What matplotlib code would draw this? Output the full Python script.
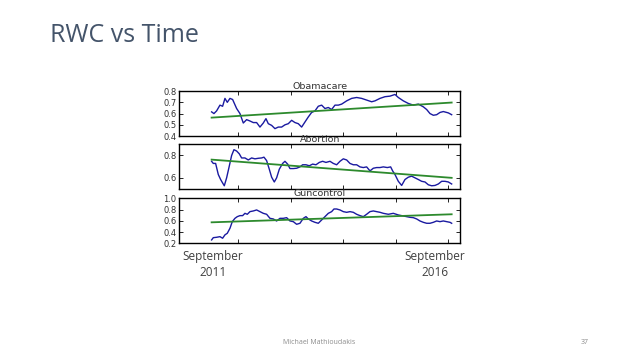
import matplotlib
matplotlib.use("Agg")
import matplotlib.pyplot as plt
import numpy as np

# time axis: 0 = September 2011, 720 = September 2016 (arbitrary units)
obama_t = [0, 7, 15, 25, 33, 40, 47, 55, 63, 75, 85, 95, 105, 115, 125, 135, 145, 155, 163, 170, 180, 190, 200,
           210, 220, 230, 240, 250, 260, 270, 280, 290, 300, 310, 320, 330, 340, 350, 360, 370, 380, 390, 405, 420,
           435, 450, 465, 480, 490, 505, 520, 535, 550, 560, 575, 590, 605, 620, 635, 645, 655, 665, 675, 685, 695,
           710, 720]
obama_v = [0.615, 0.60, 0.624, 0.675, 0.665, 0.735, 0.70, 0.735, 0.725, 0.645, 0.60, 0.516, 0.546, 0.534, 0.52,
           0.52, 0.48, 0.516, 0.555, 0.51, 0.495, 0.466, 0.48, 0.48, 0.50, 0.51, 0.54, 0.52, 0.51, 0.48, 0.525,
           0.57, 0.61, 0.624, 0.665, 0.675, 0.645, 0.654, 0.636, 0.675, 0.675, 0.684, 0.713, 0.735, 0.743, 0.735,
           0.72, 0.705, 0.713, 0.735, 0.75, 0.755, 0.77, 0.743, 0.713, 0.69, 0.675, 0.684, 0.66, 0.636, 0.60,
           0.585, 0.59, 0.61, 0.618, 0.606, 0.59]
obama_trend = [0.564, 0.698]

abort_t = [0, 5, 12, 20, 27, 33, 38, 45, 52, 60, 67, 75, 83, 90, 100, 110, 120, 130, 140, 150, 157, 165, 173, 180,
           188, 195, 203, 213, 220, 228, 235, 245, 255, 265, 273, 283, 293, 303, 313, 323, 333, 343, 355, 365, 375,
           385, 395, 405, 415, 425, 435, 445, 455, 465, 475, 485, 495, 505, 515, 527, 537, 543, 550, 560, 570,
           580, 590, 600, 610, 620, 630, 640, 650, 660, 670, 680, 690, 700, 710, 720]
abort_v = [0.748, 0.729, 0.729, 0.63, 0.585, 0.554, 0.529, 0.60, 0.692, 0.80, 0.852, 0.84, 0.815, 0.778, 0.778,
           0.76, 0.778, 0.77, 0.775, 0.778, 0.785, 0.754, 0.677, 0.606, 0.563, 0.60, 0.677, 0.729, 0.748, 0.723,
           0.683, 0.683, 0.686, 0.698, 0.717, 0.717, 0.708, 0.723, 0.717, 0.738, 0.748, 0.738, 0.748, 0.729,
           0.717, 0.748, 0.77, 0.76, 0.729, 0.717, 0.717, 0.698, 0.692, 0.698, 0.662, 0.686, 0.692, 0.692,
           0.698, 0.692, 0.698, 0.662, 0.63, 0.569, 0.532, 0.585, 0.606, 0.615, 0.60, 0.585, 0.569, 0.563,
           0.538, 0.529, 0.532, 0.545, 0.569, 0.569, 0.563, 0.545]
abort_trend = [0.763, 0.60]

gun_t = [0, 5, 15, 25, 33, 40, 47, 55, 62, 70, 77, 85, 93, 100, 107, 115, 125, 135, 145, 155, 165, 175, 185, 195,
         205, 215, 225, 235, 245, 255, 265, 275, 283, 290, 300, 310, 320, 330, 340, 350, 360, 367, 375, 385,
         395, 405, 415, 425, 435, 445, 455, 465, 475, 485, 495, 505, 515, 530, 545, 560, 570, 585, 595, 605,
         615, 625, 635, 645, 655, 665, 675, 685, 695, 705, 715, 720]
gun_v = [0.26, 0.30, 0.307, 0.318, 0.29, 0.35, 0.378, 0.467, 0.585, 0.644, 0.674, 0.692, 0.692, 0.733, 0.716,
         0.763, 0.775, 0.793, 0.763, 0.733, 0.716, 0.644, 0.633, 0.597, 0.644, 0.644, 0.656, 0.597, 0.585,
         0.538, 0.556, 0.644, 0.674, 0.633, 0.597, 0.573, 0.556, 0.615, 0.674, 0.733, 0.763, 0.81, 0.81,
         0.793, 0.763, 0.751, 0.763, 0.751, 0.716, 0.692, 0.674, 0.716, 0.763, 0.775, 0.763, 0.751, 0.733,
         0.716, 0.733, 0.704, 0.692, 0.674, 0.662, 0.656, 0.633, 0.597, 0.573, 0.556, 0.556, 0.573, 0.597,
         0.585, 0.597, 0.585, 0.573, 0.556]
gun_trend = [0.573, 0.716]

titles = ["Obamacare", "Abortion", "Guncontrol"]
ylims = [(0.4, 0.8), (0.5, 0.9), (0.2, 1.0)]
yticks = [[0.4, 0.5, 0.6, 0.7, 0.8], [0.6, 0.8], [0.2, 0.4, 0.6, 0.8, 1.0]]
xticks = [80, 237.5, 395, 552.5, 710]

fig = plt.figure(figsize=(6.38, 3.59), dpi=100)
fig.patch.set_facecolor("white")

boxes = [(0.281, 0.621, 0.44, 0.1253), (0.281, 0.4735, 0.44, 0.1245), (0.281, 0.3223, 0.44, 0.1253)]
series = [(obama_t, obama_v, obama_trend), (abort_t, abort_v, abort_trend), (gun_t, gun_v, gun_trend)]

for box, (t, v, tr), title, yl, yt in zip(boxes, series, titles, ylims, yticks):
    ax = fig.add_axes(box)
    ax.plot(t, v, color="#1a1aa0", lw=1.0)
    ax.plot([t[0], t[-1]], tr, color="#2d8a2d", lw=1.3)
    ax.set_xlim(-97, 745)
    ax.set_ylim(*yl)
    ax.set_yticks(yt)
    ax.set_yticklabels([f"{y:.1f}" for y in yt])
    ax.set_xticks(xticks)
    ax.set_xticklabels([])
    ax.tick_params(direction="in", top=True, right=True, length=3, width=0.6,
                   labelsize=6, labelcolor="#333333", pad=2)
    for s in ax.spines.values():
        s.set_linewidth(1.0)
        s.set_color("black")
    ax.set_title(title, fontsize=6.8, color="#333333", pad=1.5)

fig.text(0.078, 0.9, "RWC vs Time", fontsize=18, color="#44546A", family="Open Sans",
         ha="left", va="center")

fig.text(0.334, 0.262, "September\n2011", fontsize=8.5, color="#404040", family="Open Sans",
         ha="center", va="center", linespacing=1.3)
fig.text(0.682, 0.262, "September\n2016", fontsize=8.5, color="#404040", family="Open Sans",
         ha="center", va="center", linespacing=1.3)

fig.text(0.5, 0.047, "Michael Mathioudakis", fontsize=5, color="#8c8c8c", family="Open Sans",
         ha="center", va="center")
fig.text(0.917, 0.047, "37", fontsize=5, color="#8c8c8c", family="Open Sans",
         ha="center", va="center")

fig.savefig("out.png", dpi=100, facecolor="white")
